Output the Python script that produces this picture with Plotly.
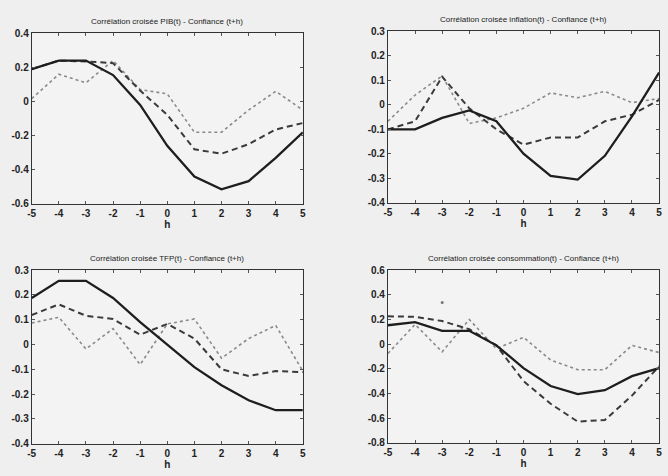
import plotly.graph_objects as go

h = [-5, -4, -3, -2, -1, 0, 1, 2, 3, 4, 5]

titles = [
    "Corrélation croisée PIB(t) - Confiance (t+h)",
    "Corrélation croisée inflation(t) - Confiance (t+h)",
    "Corrélation croisée TFP(t) - Confiance (t+h)",
    "Corrélation croisée consommation(t) - Confiance (t+h)",
]

# PIB
pib_solid = [0.19, 0.24, 0.24, 0.155, -0.02, -0.26, -0.44, -0.515, -0.467, -0.33, -0.18]
pib_dash = [0.19, 0.24, 0.235, 0.225, 0.064, -0.078, -0.28, -0.306, -0.25, -0.164, -0.126]
pib_dot = [0.017, 0.16, 0.11, 0.24, 0.07, 0.045, -0.18, -0.18, -0.05, 0.06, -0.05]

# inflation
inf_solid = [-0.10, -0.10, -0.053, -0.023, -0.067, -0.199, -0.29, -0.305, -0.208, -0.047, 0.132]
inf_dash = [-0.10, -0.067, 0.115, -0.014, -0.10, -0.162, -0.133, -0.133, -0.067, -0.04, 0.02]
inf_dot = [-0.067, 0.04, 0.118, -0.076, -0.053, -0.014, 0.049, 0.029, 0.055, 0.009, 0.026]

# TFP
tfp_solid = [0.188, 0.257, 0.257, 0.188, 0.09, -0.002, -0.091, -0.164, -0.225, -0.265, -0.265]
tfp_dash = [0.119, 0.162, 0.116, 0.103, 0.04, 0.083, 0.024, -0.10, -0.127, -0.107, -0.111]
tfp_dot = [0.087, 0.11, -0.018, 0.064, -0.081, 0.083, 0.103, -0.055, 0.024, 0.077, -0.107]

# consommation
con_solid = [0.153, 0.179, 0.108, 0.108, -0.01, -0.195, -0.34, -0.405, -0.374, -0.26, -0.195]
con_dash = [0.226, 0.221, 0.187, 0.121, -0.01, -0.30, -0.484, -0.629, -0.616, -0.418, -0.18]
con_dot = [-0.076, 0.16, -0.063, 0.2, -0.037, 0.055, -0.129, -0.208, -0.208, -0.011, -0.068]
con_outlier_h = [-3]
con_outlier_v = [0.337]

x_ticks = [-5, -4, -3, -2, -1, 0, 1, 2, 3, 4, 5]
x_ticktext = ["-5", "-4", "-3", "-2", "-1", "0", "1", "2", "3", "4", "5"]

y_ticks_pib = [0.4, 0.2, 0, -0.2, -0.4, -0.6]
y_text_pib = ["0.4", "0.2", "0", "-0.2", "-0.4", "-0.6"]
y_ticks_inf = [0.3, 0.2, 0.1, 0, -0.1, -0.2, -0.3, -0.4]
y_text_inf = ["0.3", "0.2", "0.1", "0", "-0.1", "-0.2", "-0.3", "-0.4"]
y_ticks_con = [0.6, 0.4, 0.2, 0, -0.2, -0.4, -0.6, -0.8]
y_text_con = ["0.6", "0.4", "0.2", "0", "-0.2", "-0.4", "-0.6", "-0.8"]

panels = [
    (pib_solid, pib_dash, pib_dot, [-0.6, 0.4], y_ticks_pib, y_text_pib),
    (inf_solid, inf_dash, inf_dot, [-0.4, 0.3], y_ticks_inf, y_text_inf),
    (tfp_solid, tfp_dash, tfp_dot, [-0.4, 0.3], y_ticks_inf, y_text_inf),
    (con_solid, con_dash, con_dot, [-0.8, 0.6], y_ticks_con, y_text_con),
]

W, H = 668, 476
# pixel boxes: (left, right, top, bottom)
boxes = [
    (28, 302, 28, 203),
    (388, 662, 26, 202),
    (28, 302, 271, 449),
    (388, 662, 271, 448),
]

fig = go.Figure()
font_tick = dict(family="Liberation Sans, Arial", size=10, color="#222222", weight="bold")

for i, (s, d, t, yr, yt, ytt) in enumerate(panels):
    n = "" if i == 0 else str(i + 1)
    xa, ya = "x" + n, "y" + n
    fig.add_trace(go.Scatter(x=h, y=t, mode="lines", xaxis=xa, yaxis=ya,
                             line=dict(color="#8a8a8a", width=1.6, dash="dot"), showlegend=False))
    fig.add_trace(go.Scatter(x=h, y=d, mode="lines", xaxis=xa, yaxis=ya,
                             line=dict(color="#3a3a3a", width=2, dash="6px,4px"), showlegend=False))
    fig.add_trace(go.Scatter(x=h, y=s, mode="lines", xaxis=xa, yaxis=ya,
                             line=dict(color="#1e1e1e", width=2.3), showlegend=False))
    if i == 3:
        fig.add_trace(go.Scatter(x=con_outlier_h, y=con_outlier_v, mode="markers", xaxis=xa, yaxis=ya,
                                 marker=dict(color="#777777", size=3), showlegend=False))
    l, r, tp, b = boxes[i]
    xdom = [l / W, r / W]
    ydom = [1 - b / H, 1 - tp / H]
    common = dict(showline=True, linecolor="#333333", linewidth=1, mirror="allticks",
                  ticks="inside", ticklen=3, tickcolor="#555555", showgrid=False, zeroline=False,
                  tickfont=font_tick)
    fig.update_layout(**{
        "xaxis" + n: dict(domain=xdom, range=[-5, 5], tickvals=x_ticks, ticktext=x_ticktext,
                          anchor=ya, title=dict(text="h", font=font_tick, standoff=1), **common),
        "yaxis" + n: dict(domain=ydom, range=yr, tickvals=yt, ticktext=ytt, anchor=xa, **common),
    })
    fig.add_annotation(text=titles[i], x=(l + r) / 2 / W, y=1 - (tp - 12) / H, xref="paper", yref="paper",
                       showarrow=False, font=dict(family="Liberation Sans, Arial", size=8, color="#222222"),
                       xanchor="center", yanchor="middle")

fig.update_layout(width=W, height=H, margin=dict(l=0, r=0, t=0, b=0),
                  paper_bgcolor="#efefef", plot_bgcolor="#f3f3f3", showlegend=False)

fig.write_html("out.html")
